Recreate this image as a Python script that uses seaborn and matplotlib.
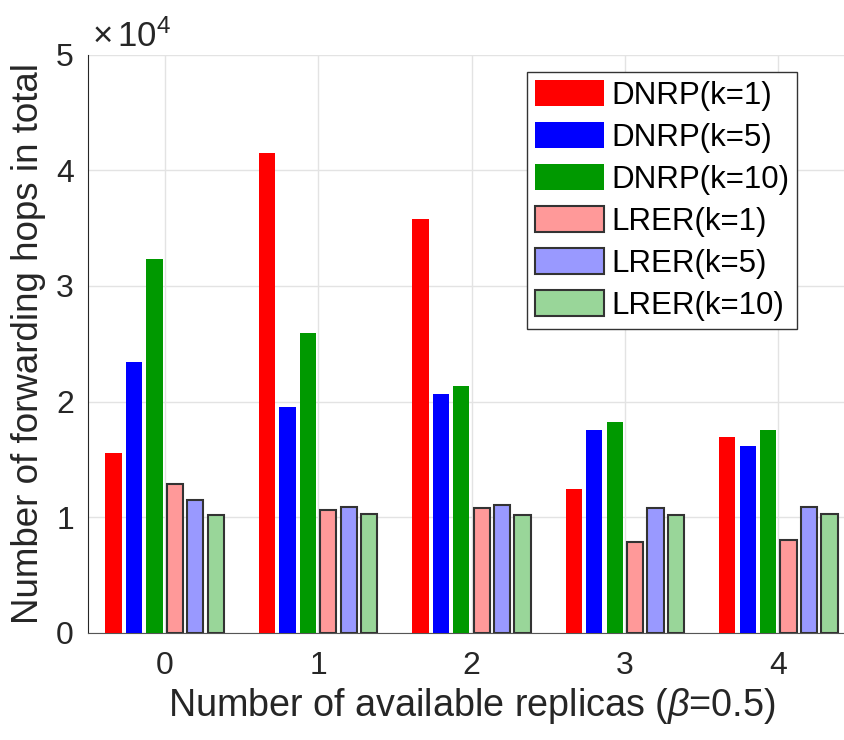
import pandas as pd
import matplotlib
matplotlib.use("Agg")
import matplotlib.pyplot as plt
from matplotlib.patches import Patch
import seaborn as sns

replicas = ["0", "1", "2", "3", "4"]
series = ["DNRP(k=1)", "DNRP(k=5)", "DNRP(k=10)", "LRER(k=1)", "LRER(k=5)", "LRER(k=10)"]
dnrp_k1 = [15560, 41470, 35800, 12450, 16950]
dnrp_k5 = [23400, 19500, 20650, 17550, 16150]
dnrp_k10 = [32300, 25950, 21300, 18200, 17550]
lrer_k1 = [12900, 10650, 10750, 7820, 8000]
lrer_k5 = [11450, 10850, 11050, 10750, 10850]
lrer_k10 = [10150, 10250, 10150, 10150, 10280]
colors = ["#FF0000", "#0000FF", "#009900", "#FF9999", "#9999FF", "#99D699"]

values = [dnrp_k1, dnrp_k5, dnrp_k10, lrer_k1, lrer_k5, lrer_k10]
rows = []
for name, vals in zip(series, values):
    for r, v in zip(replicas, vals):
        rows.append({"replicas": r, "method": name, "hops": v})
df = pd.DataFrame(rows)

sns.set_style("white")
plt.rcParams["font.family"] = ["Liberation Sans", "DejaVu Sans"]
plt.rcParams["mathtext.fontset"] = "custom"
plt.rcParams["mathtext.rm"] = "Liberation Sans"
plt.rcParams["mathtext.it"] = "Liberation Sans:italic"
txt = "#262626"

fig = plt.figure(figsize=(8.45, 7.4), dpi=100)
ax = fig.add_axes([0.104, 0.145, 0.908, 0.781])

sns.barplot(data=df, x="replicas", y="hops", hue="method", order=replicas,
            hue_order=series, palette=colors, saturation=1, width=0.8, gap=0.2,
            legend=False, ax=ax, zorder=3)

for i, cont in enumerate(ax.containers):
    for bar in cont:
        if i < 3:
            bar.set_edgecolor("none")
        else:
            bar.set_edgecolor("#333333")
            bar.set_linewidth(1.5)

ax.set_xlim(-0.5, 4.5)
ax.set_ylim(0, 50000)
ax.set_yticks([0, 10000, 20000, 30000, 40000, 50000])
ax.set_yticklabels(["0", "1", "2", "3", "4", "5"])
ax.grid(True, color="#e3e3e3", linewidth=1, zorder=0)
ax.set_axisbelow(True)
ax.tick_params(direction="in", length=5, labelsize=23, colors=txt)
ax.tick_params(axis="x", pad=13)
ax.tick_params(axis="y", pad=10)
for s in ["top", "right"]:
    ax.spines[s].set_visible(False)
ax.spines["left"].set_color(txt)
ax.spines["bottom"].set_color("#555555")

ax.set_xlabel(r"Number of available replicas ($\it{\beta}$=0.5)", fontsize=27.2, color=txt, labelpad=4)
ax.set_ylabel("Number of forwarding hops in total", fontsize=26.5, color=txt, labelpad=7)
ax.text(0.005, 1.014, r"$\times\,10^{4}$", transform=ax.transAxes, fontsize=25,
        color=txt, ha="left", va="baseline")

handles = []
for i, (name, c) in enumerate(zip(series, colors)):
    if i < 3:
        handles.append(Patch(facecolor=c, edgecolor="none", label=name))
    else:
        handles.append(Patch(facecolor=c, edgecolor="#333333", linewidth=1.5, label=name))
leg = ax.legend(handles=handles, loc="upper right", bbox_to_anchor=(0.924, 0.97),
                borderaxespad=0, fontsize=22.5, handlelength=2.2, handleheight=0.93,
                labelspacing=0.35, handletextpad=0.22, borderpad=0.25,
                frameon=True, fancybox=False, framealpha=1)
leg.get_frame().set_edgecolor("#333333")
leg.get_frame().set_linewidth(1)
for t in leg.get_texts():
    t.set_color("black")

fig.savefig("out.png", dpi=100)
